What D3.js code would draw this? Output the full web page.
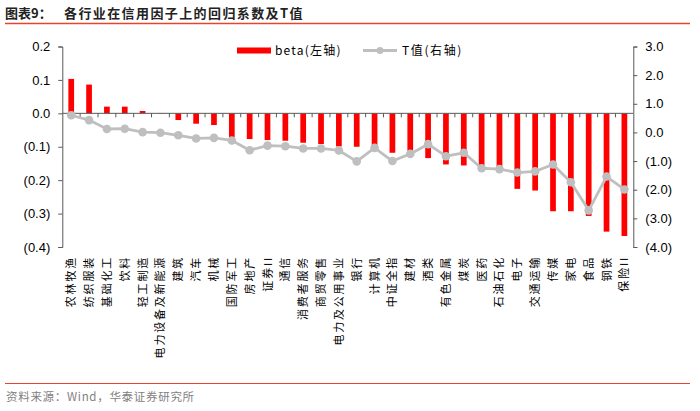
<!DOCTYPE html>
<html><head><meta charset="utf-8">
<script src="https://cdn.jsdelivr.net/npm/d3@7"></script>
<style>
body{margin:0;background:#fff;}
svg{display:block;}
</style></head>
<body>
<svg id="c" width="700" height="411"></svg>
<script>
const categories = ["农林牧渔","纺织服装","基础化工","饮料","轻工制造","电力设备及新能源","建筑","汽车","机械","国防军工","房地产","证券II","通信","消费者服务","商贸零售","电力及公用事业","银行","计算机","中证全指","建材","酒类","有色金属","煤炭","医药","石油石化","电子","交通运输","传媒","家电","食品","钢铁","保险II"];
const betaValues = [0.103,0.086,0.020,0.020,0.007,0.001,-0.020,-0.031,-0.035,-0.072,-0.077,-0.080,-0.082,-0.088,-0.092,-0.099,-0.100,-0.095,-0.118,-0.112,-0.134,-0.153,-0.156,-0.165,-0.165,-0.226,-0.231,-0.293,-0.293,-0.307,-0.354,-0.367];
const tValues = [0.60,0.43,0.12,0.13,0.01,-0.01,-0.10,-0.21,-0.19,-0.28,-0.62,-0.46,-0.48,-0.56,-0.56,-0.63,-1.01,-0.54,-1.00,-0.75,-0.41,-0.83,-0.71,-1.25,-1.28,-1.40,-1.36,-1.12,-1.74,-2.72,-1.54,-1.99];
const leftTicks = [0.2,0.1,0,-0.1,-0.2,-0.3,-0.4];
const rightTicks = [3,2,1,0,-1,-2,-3,-4];
const title = "各行业在信用因子上的回归系数及T值";
const source = "资料来源：Wind，华泰证券研究所";

const svg = d3.select("#c");
const L = 62.3, R = 633.3, T = 46.5, B = 247;
const x = d3.scaleBand().domain(categories).range([L, R]).paddingInner(0.68).paddingOuter(0.34);
const yL = d3.scaleLinear().domain([-0.4, 0.2]).range([B, T]);
const yR = d3.scaleLinear().domain([-4, 3]).range([B, T]);
const fmt = v => { const s = Math.abs(v).toFixed(1); return v < -1e-9 ? "(" + s + ")" : s; };
const axisColor = "#595959";
const numFont = "'Liberation Sans', Arial, sans-serif";
const cjkFont = "'Noto Sans CJK SC', sans-serif";

// title
svg.append("text").attr("x", 5).attr("y", 18).attr("font-family", cjkFont).attr("font-weight", "bold")
  .attr("font-size", 13).attr("fill", "#222").text("图表9：");
svg.append("text").attr("x", 64).attr("y", 18).attr("font-family", cjkFont).attr("font-weight", "bold")
  .attr("font-size", 13).attr("letter-spacing", 1.4).attr("fill", "#222").text(title);
svg.append("line").attr("x1", 5).attr("x2", 690).attr("y1", 23.5).attr("y2", 23.5).attr("stroke", "#E8432F").attr("stroke-width", 1.5);

// bars
svg.append("g").selectAll("rect").data(betaValues).join("rect")
  .attr("x", (d, i) => x(categories[i]))
  .attr("width", x.bandwidth())
  .attr("y", d => yL(Math.max(0, d)))
  .attr("height", d => Math.abs(yL(d) - yL(0)))
  .attr("fill", "#FF0000");

// left axis
const gl = svg.append("g").attr("transform", `translate(${L},0)`)
  .call(d3.axisLeft(yL).tickValues(leftTicks).tickFormat(fmt).tickSize(4).tickPadding(8));
gl.selectAll("text").attr("font-family", numFont).attr("font-size", 13).attr("fill", "#000");
gl.selectAll("line,path").attr("stroke", axisColor);

// right axis
const gr = svg.append("g").attr("transform", `translate(${R},0)`)
  .call(d3.axisRight(yR).tickValues(rightTicks).tickFormat(fmt).tickSize(4).tickPadding(8));
gr.selectAll("text").attr("font-family", numFont).attr("font-size", 13).attr("fill", "#000");
gr.selectAll("line,path").attr("stroke", axisColor);

// category axis at zero
const y0 = yL(0);
svg.append("line").attr("x1", L).attr("x2", R).attr("y1", y0).attr("y2", y0).attr("stroke", axisColor).attr("stroke-width", 1);
const step = x.step();
svg.append("g").selectAll("line").data(categories.slice(1)).join("line")
  .attr("x1", d => x(d) - x.paddingInner() * step / 2).attr("x2", d => x(d) - x.paddingInner() * step / 2)
  .attr("y1", y0).attr("y2", y0 + 4).attr("stroke", axisColor);

// category labels
svg.append("g").selectAll("text").data(categories).join("text")
  .attr("transform", d => `translate(${x(d) + x.bandwidth() / 2 + 4},256) rotate(-90)`)
  .attr("text-anchor", "end")
  .attr("font-family", cjkFont).attr("font-size", 11).attr("letter-spacing", 1.8)
  .attr("fill", "#000").text(d => d);

// T line
const line = d3.line().x((d, i) => x(categories[i]) + x.bandwidth() / 2).y(d => yR(d));
svg.append("path").datum(tValues).attr("d", line).attr("fill", "none")
  .attr("stroke", "#BFBFBF").attr("stroke-width", 2.8).attr("stroke-linejoin", "round");
svg.append("g").selectAll("circle").data(tValues).join("circle")
  .attr("cx", (d, i) => x(categories[i]) + x.bandwidth() / 2).attr("cy", d => yR(d))
  .attr("r", 4.3).attr("fill", "#BFBFBF");

// legend
svg.append("rect").attr("x", 237).attr("y", 47.5).attr("width", 34).attr("height", 6).attr("fill", "#FF0000");
svg.append("text").attr("x", 275).attr("y", 55).attr("font-family", cjkFont).attr("font-size", 12)
  .attr("letter-spacing", 1.2).attr("fill", "#000").text("beta(左轴)");
svg.append("line").attr("x1", 363).attr("x2", 397).attr("y1", 50.5).attr("y2", 50.5).attr("stroke", "#BFBFBF").attr("stroke-width", 2.8);
svg.append("circle").attr("cx", 380).attr("cy", 50.5).attr("r", 3.5).attr("fill", "#BFBFBF");
svg.append("text").attr("x", 402).attr("y", 55).attr("font-family", cjkFont).attr("font-size", 12)
  .attr("letter-spacing", 1.6).attr("fill", "#000").text("T值(右轴)");

// footer
svg.append("line").attr("x1", 5).attr("x2", 690).attr("y1", 383.5).attr("y2", 383.5).attr("stroke", "#E8432F").attr("stroke-width", 1.2);
svg.append("text").attr("x", 6).attr("y", 401).attr("font-family", cjkFont).attr("font-size", 11.5)
  .attr("letter-spacing", 0.7).attr("fill", "#7F7F7F").text(source);
</script>
</body></html>
